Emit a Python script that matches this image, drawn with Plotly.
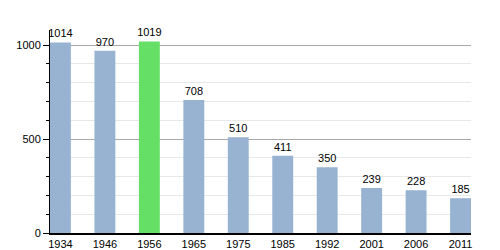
import plotly.graph_objects as go

years = ["1934", "1946", "1956", "1965", "1975", "1985", "1992", "2001", "2006", "2011"]
population = [1014, 970, 1019, 708, 510, 411, 350, 239, 228, 185]
highlight_year = "1956"

blue = "#97b3d1"
green = "#66df66"
colors = [green if y == highlight_year else blue for y in years]

fig = go.Figure(go.Bar(
    x=years, y=population,
    marker=dict(color=colors, line=dict(width=0)),
    width=0.47,
    text=[str(v) for v in population],
    textposition="outside",
    textfont=dict(family="Liberation Sans, Arial, sans-serif", size=11, color="#000"),
    constraintext="none",
    cliponaxis=False,
))

fig.update_layout(
    width=500, height=250,
    margin=dict(l=50, r=29, t=30, b=17, autoexpand=False),
    paper_bgcolor="white", plot_bgcolor="white",
    showlegend=False,
    font=dict(family="Liberation Sans, Arial, sans-serif", size=11, color="#000"),
)
fig.update_xaxes(
    type="category", range=[-0.235, 9.235], automargin=False,
    showline=True, linecolor="#000", linewidth=1.5,
    ticks="", showgrid=False, tickfont=dict(size=11), ticklabelstandoff=0,
)
fig.update_yaxes(
    range=[0, 1080], tickvals=[0, 500, 1000], automargin=False,
    showline=True, linecolor="#000", linewidth=1,
    ticks="outside", ticklen=6, tickcolor="#000",
    showgrid=True, gridcolor="#a8a8a8", gridwidth=1,
    zeroline=False, tickfont=dict(size=11),
    minor=dict(tickvals=[100, 200, 300, 400, 600, 700, 800, 900], ticks="outside", ticklen=3,
               tickcolor="#000", showgrid=True, gridcolor="#e8e8e8", gridwidth=1),
)

fig.write_html("out.html")
